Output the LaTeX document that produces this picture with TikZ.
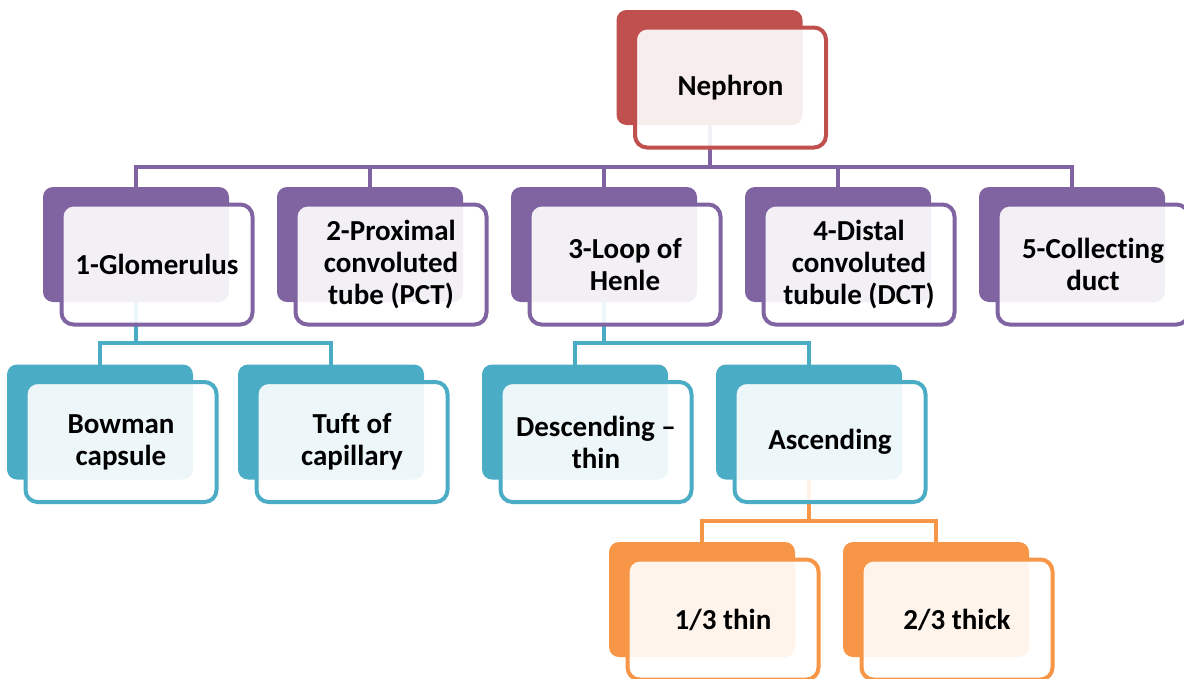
\documentclass[tikz,border=0pt]{standalone}
\usepackage{fontspec}
\setmainfont[Ligatures={NoCommon}]{Carlito}
\definecolor{cred}{HTML}{C0504D}
\definecolor{cpur}{HTML}{8064A2}
\definecolor{cblu}{HTML}{4BACC6}
\definecolor{cora}{HTML}{F79646}
\pgfdeclarelayer{bg}
\pgfsetlayers{bg,main}
\newcommand\twobox[5]{%
  \node[backbox, fill=#4] (#1b) at (#2,#3) {};
  \node[frontbox, draw=#4] (#1) at ([shift={(21,20)}]#1b.center) {#5};
}
\begin{document}
\begin{tikzpicture}[x=1pt,y=-1pt,
  backbox/.style={rectangle, rounded corners=10pt, minimum width=186pt, minimum height=115pt, inner sep=0pt, outer sep=0pt},
  frontbox/.style={rectangle, rounded corners=12pt, minimum width=191pt, minimum height=120pt, line width=4pt, fill=white, fill opacity=0.9, text opacity=1, align=center, font=\fontsize{29}{32}\selectfont\bfseries, inner sep=0pt, outer sep=0pt},
  link/.style={line width=4pt}]
\useasboundingbox (0,0) rectangle (1184,678);
\clip (0,0) rectangle (1184,678);
% nodes
\twobox{neph}{709.5}{67.5}{cred}{Nephron}
\twobox{glo}{136}{244.5}{cpur}{1-Glomerulus}
\twobox{pct}{370}{244.5}{cpur}{2-Proximal\\convoluted\\tube (PCT)}
\twobox{loop}{604}{244.5}{cpur}{3-Loop of\\Henle}
\twobox{dct}{838}{244.5}{cpur}{4-Distal\\convoluted\\tubule (DCT)}
\twobox{col}{1072}{244.5}{cpur}{5-Collecting\\duct}
\twobox{bow}{100}{422}{cblu}{Bowman\\capsule}
\twobox{tuft}{331}{422}{cblu}{Tuft of\\capillary}
\twobox{desc}{575}{422}{cblu}{Descending –\\thin}
\twobox{asc}{809}{422}{cblu}{Ascending}
\twobox{thin}{702}{599.5}{cora}{1/3 thin}
\twobox{thick}{936}{599.5}{cora}{2/3 thick}
\coordinate (bus1) at (0,167);
\coordinate (bus2) at (0,343);
\coordinate (bus3) at (0,521);
\begin{pgfonlayer}{bg}
  \foreach \c in {glo,pct,loop,dct,col}
    \draw[link, cpur] (nephb.south) -- (nephb.south |- bus1) -| (\c b.north);
  \foreach \c in {bow,tuft}
    \draw[link, cblu] (glob.south) -- (glob.south |- bus2) -| (\c b.north);
  \foreach \c in {desc,asc}
    \draw[link, cblu] (loopb.south) -- (loopb.south |- bus2) -| (\c b.north);
  \foreach \c in {thin,thick}
    \draw[link, cora] (ascb.south) -- (ascb.south |- bus3) -| (\c b.north);
\end{pgfonlayer}
\end{tikzpicture}
\end{document}
